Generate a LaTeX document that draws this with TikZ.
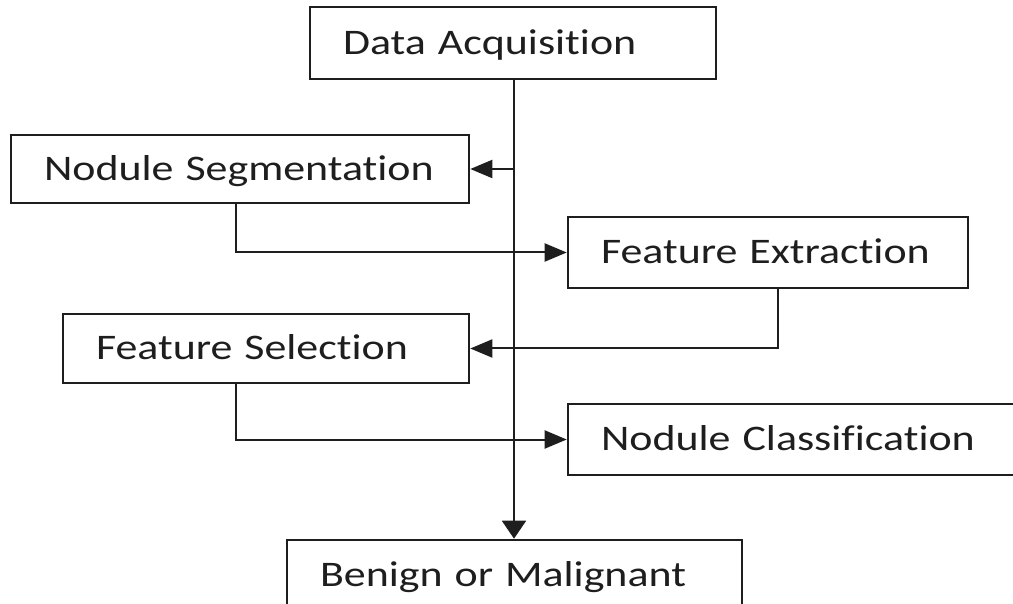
\documentclass[tikz,border=0pt]{standalone}
\usepackage{fontspec}
\setmainfont{Carlito}[FakeStretch=1.22, Ligatures=NoCommon]
\usetikzlibrary{arrows.meta}
\definecolor{ink}{HTML}{1E1E1E}
\begin{document}
\begin{tikzpicture}[x=1pt,y=-1pt,
  stepbox/.style={draw=ink, line width=2.6pt, rectangle, inner xsep=33pt, inner ysep=0pt,
    text height=22.7pt, text depth=0pt, align=left, font=\fontsize{36pt}{40pt}\selectfont, text=ink},
  conn/.style={draw=ink, line width=2pt},
  harrow/.style={-{Triangle[length=22pt,width=18pt]}},
  varrow/.style={-{Triangle[length=18pt,width=24pt]}}]
\path[use as bounding box, clip] (0,0) rectangle (1013,604);
\node[stepbox, minimum width=406pt, minimum height=72pt, text width=340pt] (DA) at (513,43) {\mbox{Data Acquisition}};
\node[stepbox, minimum width=458pt, minimum height=68pt, text width=392pt] (NS) at (240,169) {\mbox{Nodule Segmentation}};
\node[stepbox, minimum width=400pt, minimum height=71pt, text width=334pt] (FE) at (768,252.5) {\mbox{Feature Extraction}};
\node[stepbox, minimum width=406pt, minimum height=69pt, text width=340pt] (FS) at (266,348.5) {\mbox{Feature Selection}};
\node[stepbox, minimum width=462pt, minimum height=71pt, text width=396pt] (NC) at (799,439.5) {\mbox{Nodule Classification}};
\node[stepbox, minimum width=455pt, minimum height=71pt, text width=389pt] (BM) at (514.5,575.5) {\mbox{Benign or Malignant}};
\coordinate (main) at (514,0);
\coordinate (leftdrop) at (236,0);
\coordinate (rightdrop) at (778,0);
\draw[conn, varrow] (main |- DA.south) -- (main |- BM.north);
\draw[conn, harrow] (main |- NS.east) -- (NS.east);
\draw[conn, harrow] (leftdrop |- NS.south) |- (FE.west);
\draw[conn, harrow] (rightdrop |- FE.south) |- (FS.east);
\draw[conn, harrow] (leftdrop |- FS.south) |- (NC.west);
\end{tikzpicture}
\end{document}
